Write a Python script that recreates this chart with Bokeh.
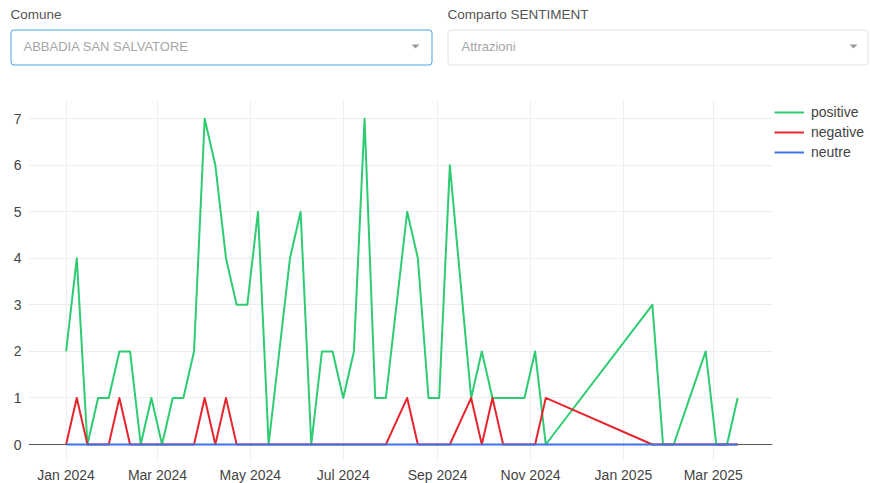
import pandas as pd
from bokeh.plotting import figure
from bokeh.models import (Range1d, FixedTicker, Span, Legend, LegendItem,
                          ColumnDataSource)
from bokeh.layouts import column
from bokeh.core.properties import value
from bokeh.embed import file_html
from bokeh.resources import INLINE

# ---------------- data ----------------
dates = [
    "2024-01-01", "2024-01-08", "2024-01-15", "2024-01-22", "2024-01-29",
    "2024-02-05", "2024-02-12", "2024-02-19", "2024-02-26", "2024-03-04",
    "2024-03-11", "2024-03-18", "2024-03-25", "2024-04-01", "2024-04-08",
    "2024-04-15", "2024-04-22", "2024-04-29", "2024-05-06", "2024-05-13",
    "2024-05-27", "2024-06-03", "2024-06-10", "2024-06-17", "2024-06-24",
    "2024-07-01", "2024-07-08", "2024-07-15", "2024-07-22", "2024-07-29",
    "2024-08-12", "2024-08-19", "2024-08-26", "2024-09-02", "2024-09-09",
    "2024-09-23", "2024-09-30", "2024-10-07", "2024-10-14", "2024-10-21",
    "2024-10-28", "2024-11-04", "2024-11-11", "2025-01-20", "2025-01-27",
    "2025-02-03", "2025-02-24", "2025-03-03", "2025-03-10", "2025-03-17",
]
positive = [2, 4, 0, 1, 1, 2, 2, 0, 1, 0,
            1, 1, 2, 7, 6, 4, 3, 3, 5, 0,
            4, 5, 0, 2, 2, 1, 2, 7, 1, 1,
            5, 4, 1, 1, 6, 1, 2, 1, 1, 1,
            1, 2, 0, 3, 0, 0, 2, 0, 0, 1]
negative = [0, 1, 0, 0, 0, 1, 0, 0, 0, 0,
            0, 0, 0, 1, 0, 1, 0, 0, 0, 0,
            0, 0, 0, 0, 0, 0, 0, 0, 0, 0,
            1, 0, 0, 0, 0, 1, 0, 1, 0, 0,
            0, 0, 1, 0, 0, 0, 0, 0, 0, 0]
neutre = [0] * len(dates)

series_names = ["positive", "negative", "neutre"]
series_colors = ["#2ecc71", "#e6262e", "#3b74e6"]

tick_dates = ["2024-01-01", "2024-03-01", "2024-05-01", "2024-07-01",
              "2024-09-01", "2024-11-01", "2025-01-01", "2025-03-01"]
tick_labels = ["Jan 2024", "Mar 2024", "May 2024", "Jul 2024",
               "Sep 2024", "Nov 2024", "Jan 2025", "Mar 2025"]
y_ticks = [0, 1, 2, 3, 4, 5, 6, 7]

comune_label = "Comune"
comune_value = "ABBADIA SAN SALVATORE"
comparto_label = "Comparto SENTIMENT"
comparto_value = "Attrazioni"

# ---------------- styles ----------------
W = 870
HDR_H = 66
UI_FONT = value("Liberation Sans")
PLOT_FONT = "Liberation Sans"
TXT = "#444444"


def ms(d):
    return pd.Timestamp(d).value / 1e6


# ---------------- header (dropdowns) ----------------
hdr = figure(width=W, height=HDR_H, x_range=Range1d(0, W), y_range=Range1d(HDR_H, 0),
             output_backend="svg", toolbar_location=None, min_border=0,
             x_axis_location=None, y_axis_location=None, outline_line_color=None)
hdr.grid.visible = False
hdr.frame_align = False

hdr.quad(left=[10.5], right=[431.5], top=[29.5], bottom=[64.5], fill_color="white",
         line_color="#4ba3e3", line_width=1, border_radius=3)
hdr.quad(left=[447.5], right=[867.5], top=[29.5], bottom=[64.5], fill_color="white",
         line_color="#e2e2e2", line_width=1, border_radius=3)

hdr.text(x=[10, 447], y=[14, 14], text=[comune_label, comparto_label],
         text_font=UI_FONT, text_font_size="13.5px", text_color="#555555",
         text_baseline="middle", text_align="left")
hdr.text(x=[23, 461], y=[46, 46], text=[comune_value, comparto_value],
         text_font=UI_FONT, text_font_size="13px", text_color="#a6a6a6",
         text_baseline="middle", text_align="left")
# dropdown carets
hdr.patches(xs=[[411, 419, 415], [849, 857, 853]],
            ys=[[44, 44, 48], [44, 44, 48]], fill_color="#999999", line_color=None)

# ---------------- main chart ----------------
day0 = pd.Timestamp("2024-01-01")
x_start = ms(day0 - pd.Timedelta(days=24.7))
x_end = ms(day0 + pd.Timedelta(days=463.9))

p = figure(frame_width=744, frame_height=361, x_axis_type="datetime",
           x_range=Range1d(x_start, x_end), y_range=Range1d(-0.365, 7.39),
           output_backend="svg", toolbar_location=None,
           min_border_left=28, min_border_right=0, min_border_top=34,
           min_border_bottom=20, outline_line_color=None)
p.frame_align = False

src = ColumnDataSource(dict(date=pd.to_datetime(dates), positive=positive,
                            negative=negative, neutre=neutre))

renderers = []
for name, col in zip(series_names, series_colors):
    r = p.line("date", name, source=src, line_color=col, line_width=2,
               line_join="round")
    renderers.append(r)

zero = Span(location=0, dimension="width", line_color="#555555", line_width=1,
            level="underlay")
p.add_layout(zero)

tick_ms = [ms(d) for d in tick_dates]
p.xaxis.ticker = FixedTicker(ticks=tick_ms)
p.xaxis.major_label_overrides = dict(zip(tick_ms, tick_labels))
p.yaxis.ticker = FixedTicker(ticks=y_ticks)

for ax in (p.xaxis, p.yaxis):
    ax.axis_line_color = None
    ax.major_tick_line_color = None
    ax.minor_tick_line_color = None
    ax.major_tick_out = 0
    ax.major_tick_in = 0
    ax.minor_tick_out = 0
    ax.major_label_text_font = PLOT_FONT
    ax.major_label_text_font_size = "14px"
    ax.major_label_text_color = TXT
p.xaxis.major_label_standoff = 5
p.yaxis.major_label_standoff = 7

p.xgrid.grid_line_color = "#eeeeee"
p.ygrid.grid_line_color = "#eeeeee"

legend = Legend(
    items=[LegendItem(label=n, renderers=[r]) for n, r in zip(series_names, renderers)],
    location="top_left", margin=2, padding=2, spacing=0,
    label_height=20, glyph_height=20, glyph_width=30, label_standoff=7,
    border_line_color=None, background_fill_alpha=0,
    label_text_font=PLOT_FONT, label_text_font_size="14px", label_text_color=TXT,
)
p.add_layout(legend, "right")

layout = column(hdr, p, spacing=0)
open("out.html", "w").write(file_html(layout, INLINE))
